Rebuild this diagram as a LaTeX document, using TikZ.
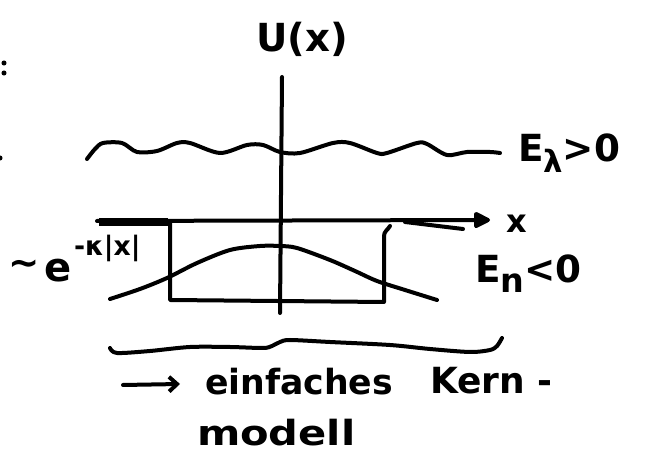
\documentclass[tikz,border=0pt]{standalone}
\usepackage{fontspec}
\setmainfont{DejaVu Sans}
\usetikzlibrary{arrows.meta}
\tikzset{
  pen/.style={line width=3pt, line cap=round, line join=round},
  hand/.style={inner sep=0pt, outer sep=0pt},
}
\newcommand{\fsz}[1]{\fontsize{#1}{#1}\selectfont}
\begin{document}
\begin{tikzpicture}[x=0.75pt,y=-0.75pt]
\path[use as bounding box] (0,0) rectangle (654,466);
% cut-off marks at the left edge
\fill (4,63) circle[radius=1.9pt];
\fill (4,73) circle[radius=1.9pt];
\fill (0,158) circle[radius=1.9pt];
% axes
\coordinate (yt) at (282,77);
\coordinate (yb) at (280,313);
\draw[pen] (yt) -- (yb);
\coordinate (xl) at (97,221);
\coordinate (xr) at (490,220);
\draw[pen, -{Triangle[length=14pt,width=13pt,round]}] (xl) -- (xr);
\draw[line width=6pt] (99,222) -- (168,222);
\draw[pen] (405,222) -- (463,229);
% scattering state wave
\draw[pen] plot[smooth, tension=0.5] coordinates {(87,159) (95,149) (103,143) (122,143) (137,152) (157,151) (177,143) (190,143) (220,153) (247,145) (263,145) (280,152) (300,153) (333,143) (350,143) (377,153) (387,153) (417,143) (427,144) (447,155) (467,152) (490,152) (500,153)};
% potential well
\draw[pen] (170,223) -- (170,300) -- (384,302) -- (384,236) to[out=90,in=-120] (390,226);
% bound state
\draw[pen] plot[smooth, tension=0.5] coordinates {(110,299) (140,289) (167,278) (197,263) (230,250) (260,246) (280,246) (297,248) (330,260) (355,271) (377,281) (405,290) (437,300)};
% brace
\draw[pen] plot[smooth, tension=0.5] coordinates {(110,348) (117,353) (150,351) (190,347) (230,347) (263,348) (272,346) (280,342) (290,340) (330,342) (390,345) (430,349) (470,352) (490,350) (497,346) (502,338)};
% labels
\node[hand, anchor=base, font={\bfseries\fsz{29}}] (U) at (302,52) {U(x)};
\node[hand, anchor=base west, font={\bfseries\fsz{28}}] (El) at (518,162) {E\raisebox{-8pt}{\fsz{23}λ}>0};
\node[hand, anchor=base, font={\bfseries\fsz{24}}] (xlab) at (517,233) {x};
\node[hand, anchor=base west, font={\bfseries\fsz{28}}] (En) at (475,283) {E\raisebox{-7pt}{\fsz{25}n}<0};
\node[hand, anchor=center, font={\bfseries\fsz{28}}] (tld) at (24,268) {∼};
\node[hand, anchor=base west, font={\bfseries\fsz{30}}] (ee) at (44,282) {e};
\node[hand, anchor=base west, font={\bfseries\fsz{20}}] (sup) at (74,256) {-κ|x|};
% caption
\coordinate (a1) at (123,385);
\coordinate (a2) at (180,384);
\draw[pen, -{Straight Barb[length=6pt,width=11pt]}] (a1) -- (a2);
\node[hand, anchor=base west, font={\bfseries\fsz{26}}] (t1) at (205,395) {einfaches};
\node[hand, anchor=base west, font={\bfseries\fsz{27}}] (t2) at (430,394) {Kern -};
\node[hand, anchor=base west, font={\bfseries\fsz{26}}] (t3) at (197,446) {\scalebox{1.2}[1]{modell}};
\end{tikzpicture}
\end{document}
